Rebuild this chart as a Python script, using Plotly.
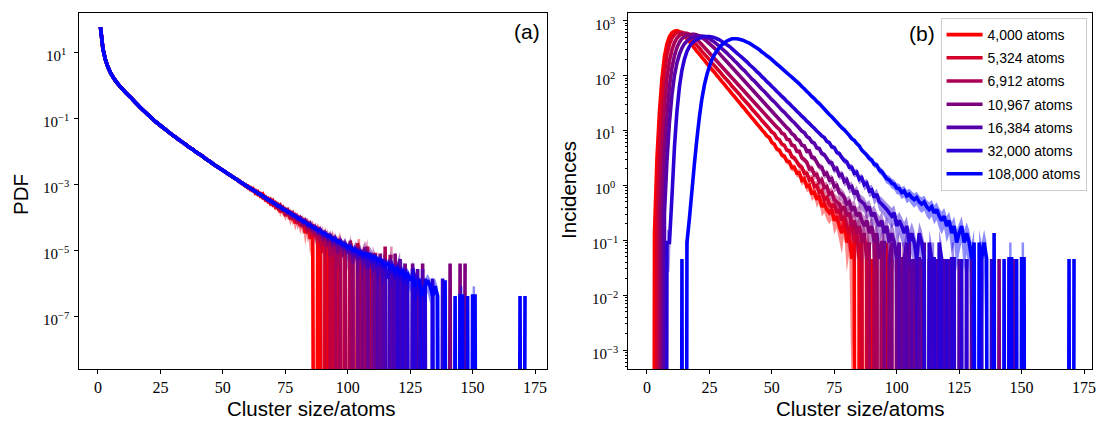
import numpy as np
import plotly.graph_objects as go

# ---------------- data ----------------
labels = ["4,000 atoms", "5,324 atoms", "6,912 atoms", "10,967 atoms",
          "16,384 atoms", "32,000 atoms", "108,000 atoms"]
colors = [(255, 0, 0), (212, 0, 42), (170, 0, 85), (127, 0, 127),
          (85, 0, 170), (42, 0, 212), (0, 0, 255)]

x_ticks = [0, 25, 50, 75, 100, 125, 150, 175]
pdf_ticks = [1e1, 1e-1, 1e-3, 1e-5, 1e-7]
pdf_tick_text = ["10<sup>1</sup>", "10<sup>−1</sup>", "10<sup>−3</sup>",
                 "10<sup>−5</sup>", "10<sup>−7</sup>"]
inc_ticks = [1e3, 1e2, 1e1, 1e0, 1e-1, 1e-2, 1e-3]
inc_tick_text = ["10<sup>3</sup>", "10<sup>2</sup>", "10<sup>1</sup>", "10<sup>0</sup>",
                 "10<sup>−1</sup>", "10<sup>−2</sup>", "10<sup>−3</sup>"]

# (a) PDF, log10 values. Sizes 1..55 coincide for all systems.
pdf_head_log10 = [1.76, 1.10, 0.77, 0.55, 0.38, 0.25, 0.14, 0.04, -0.05, -0.13,
                  -0.21, -0.29, -0.36, -0.44, -0.52, -0.60, -0.68, -0.75, -0.82, -0.89,
                  -0.96, -1.03, -1.10, -1.16, -1.22, -1.28, -1.34, -1.40, -1.46, -1.52,
                  -1.57, -1.63, -1.68, -1.74, -1.79, -1.85, -1.90, -1.95, -2.01, -2.06,
                  -2.11, -2.16, -2.22, -2.27, -2.32, -2.38, -2.43, -2.48, -2.53, -2.58,
                  -2.63, -2.68, -2.73, -2.78, -2.83]
# per-system tails from size 56 (None = empty bin)
pdf_tail_4000 = [-2.86, -2.95, -2.97, -3.06, -3.05, -3.16, -3.13, -3.27, -3.22, -3.36,
                 -3.30, -3.47, -3.43, -3.58, -3.50, -3.68, -3.59, -3.85, -3.70, -3.96,
                 -3.78, -4.06, -3.92, -4.18, -3.98, -4.26, -4.08, -4.48, -4.18, -4.66,
                 -4.26, None, -4.36, -4.66, None, -4.48, -4.96, None, -4.66, None,
                 -4.96, -4.66, None, -4.96, None, -4.96, None, None, -4.96, -4.96]
pdf_tail_5324 = [-2.89, -2.92, -3.00, -3.01, -3.11, -3.10, -3.20, -3.19, -3.31, -3.28,
                 -3.41, -3.38, -3.52, -3.46, -3.62, -3.56, -3.72, -3.64, -3.83, -3.73,
                 -3.95, -3.82, -4.08, -3.90, -4.20, -4.00, -4.30, -4.08, -4.48, -4.18,
                 -4.60, -4.30, -4.78, -4.40, -5.08, -4.60, None, -4.78, -4.60, None,
                 -4.78, -5.08, None, -4.78, None, -5.08, -5.08, None, -4.78, None,
                 -5.08, None, None, -5.08, None, -5.08]
pdf_tail_6912 = [-2.87, -2.94, -2.97, -3.05, -3.07, -3.14, -3.16, -3.24, -3.25, -3.34,
                 -3.34, -3.45, -3.44, -3.55, -3.52, -3.66, -3.61, -3.76, -3.70, -3.88,
                 -3.79, -3.97, -3.88, -4.08, -3.96, -4.19, -4.04, -4.30, -4.12, -4.42,
                 -4.22, -4.56, -4.30, -4.71, -4.40, -4.89, -4.49, -5.19, -4.59, -4.89,
                 None, -4.71, -5.19, -4.89, None, -4.71, -5.19, None, -4.89, -5.19,
                 None, -5.19, -4.89, None, -5.19, None, None, -5.19, None, -4.89,
                 None, -5.19, -5.19]
pdf_tail_10967 = [-2.88, -2.92, -2.99, -3.02, -3.09, -3.11, -3.18, -3.21, -3.28, -3.30,
                  -3.38, -3.40, -3.48, -3.49, -3.58, -3.58, -3.68, -3.67, -3.78, -3.77,
                  -3.87, -3.85, -3.98, -3.94, -4.08, -4.02, -4.18, -4.10, -4.28, -4.20,
                  -4.38, -4.28, -4.50, -4.36, -4.62, -4.45, -4.73, -4.52, -4.87, -4.60,
                  -5.10, -4.68, -4.92, -4.80, -5.10, -4.80, -5.40, -4.92, -5.10, None,
                  -5.10, -4.92, -5.40, None, -5.10, -5.40, None, -5.10, None, -5.40,
                  None, -5.40, None, -5.10, None, None, None, -5.40, None, None,
                  -5.40, None, None, None, -5.40, None, None, None, None, None,
                  None, None, None, None, None, -5.40, None, None, None, -5.40,
                  None, -5.40]
pdf_tail_16384 = [-2.88, -2.93, -2.98, -3.03, -3.08, -3.12, -3.18, -3.21, -3.28, -3.30,
                  -3.37, -3.40, -3.47, -3.49, -3.57, -3.58, -3.67, -3.67, -3.77, -3.77,
                  -3.85, -3.86, -3.96, -3.95, -4.05, -4.03, -4.15, -4.13, -4.24, -4.22,
                  -4.34, -4.30, -4.44, -4.38, -4.54, -4.48, -4.62, -4.57, -4.72, -4.64,
                  -4.82, -4.72, -4.90, -4.80, -5.00, -4.88, -5.10, -4.96, -5.27, -5.00,
                  -5.27, -5.10, -5.57, -5.10, -5.27, -5.57, -5.27, None, -5.27, -5.57,
                  None, -5.27, -5.57, None, -5.57, -5.27, None, -5.57, None, None,
                  -5.57, None, -5.57, None, -5.57]
pdf_tail_32000 = [-2.88, -2.93, -2.98, -3.03, -3.08, -3.13, -3.17, -3.22, -3.27, -3.31,
                  -3.37, -3.40, -3.47, -3.50, -3.56, -3.59, -3.66, -3.69, -3.75, -3.78,
                  -3.84, -3.87, -3.94, -3.96, -4.03, -4.05, -4.13, -4.14, -4.22, -4.24,
                  -4.31, -4.33, -4.40, -4.41, -4.50, -4.50, -4.58, -4.59, -4.68, -4.66,
                  -4.76, -4.74, -4.85, -4.82, -4.94, -4.90, -5.02, -4.98, -5.10, -5.05,
                  -5.20, -5.12, -5.30, -5.20, -5.38, -5.26, -5.50, -5.34, -5.56, -5.44,
                  -5.86, -5.56, -5.56, -5.86, -5.56, None, -5.56, -5.86, -5.86, None,
                  -5.56, -5.86, None, -5.86, None, -5.86, None, None, -5.86, None,
                  None, None, -5.86]
pdf_tail_108000 = [-2.88, -2.93, -2.98, -3.03, -3.08, -3.12, -3.17, -3.22, -3.27, -3.31,
                   -3.36, -3.41, -3.46, -3.50, -3.55, -3.60, -3.65, -3.69, -3.74, -3.79,
                   -3.83, -3.88, -3.93, -3.97, -4.02, -4.07, -4.11, -4.15, -4.21, -4.24,
                   -4.30, -4.33, -4.39, -4.42, -4.48, -4.50, -4.57, -4.59, -4.66, -4.67,
                   -4.74, -4.75, -4.82, -4.84, -4.92, -4.91, -5.00, -4.98, -5.06, -5.08,
                   -5.10, -5.14, -5.12, -5.18, -5.22, -5.20, -5.30, -5.28, -5.38, -5.42,
                   -5.40, -5.52, -5.48, -5.62, -5.56, -5.70, -5.64, -5.80, -5.72, -5.91,
                   -5.80, -6.09, -5.91, -6.09, -6.39, -6.09, -5.91, -6.09, -6.39, -6.09,
                   -6.39, None, None, -5.91, None, None, None, -6.39, None, -6.39,
                   -6.39, None, -6.39, None, -6.39, -6.39, None, None, None, None,
                   None, None, None, None, None, None, None, None, None, None,
                   None, None, None, -6.39, None, -6.39]
pdf_tails = [pdf_tail_4000, pdf_tail_5324, pdf_tail_6912, pdf_tail_10967,
             pdf_tail_16384, pdf_tail_32000, pdf_tail_108000]
# PDF value of a single counted cluster, per system (log10)
pdf_unit_log10 = [-4.96, -5.08, -5.19, -5.40, -5.57, -5.86, -6.39]

# (b) Incidences, log10 values, first size given by inc_start (None = empty bin)
inc_start = [2, 3, 4, 5, 6, 7, 13]
inc_4000 = [None, -0.87, 0.50, 1.35, 1.95, 2.35, 2.58, 2.71, 2.78,
            2.81, 2.82, 2.80, 2.77, 2.72, 2.67, 2.62, 2.56, 2.50, 2.44,
            2.39, 2.33, 2.28, 2.22, 2.17, 2.11, 2.06, 2.00, 1.95, 1.89,
            1.84, 1.78, 1.73, 1.67, 1.62, 1.56, 1.51, 1.45, 1.40, 1.34,
            1.29, 1.23, 1.18, 1.12, 1.07, 1.01, 0.96, 0.90, 0.87, 0.78,
            0.75, 0.66, 0.64, 0.55, 0.53, 0.44, 0.43, 0.32, 0.33, 0.22,
            0.23, 0.09, 0.12, -0.02, 0.00, -0.16, -0.11, -0.26, -0.19, -0.39,
            -0.34, -0.44, -0.50, -0.44, -0.64, -0.56, -0.74, -0.87, -0.64, -1.04,
            -0.87, -1.34, -1.04, None, -1.04, -1.34, None, -1.34, None, -1.34,
            None, -1.34, None, -1.34]
inc_5324 = [None, -0.60, 0.75, 1.55, 2.05, 2.38, 2.57, 2.68,
            2.74, 2.78, 2.79, 2.79, 2.77, 2.74, 2.70, 2.65, 2.60, 2.55,
            2.50, 2.44, 2.39, 2.34, 2.29, 2.23, 2.18, 2.13, 2.08, 2.02,
            1.97, 1.92, 1.87, 1.81, 1.76, 1.71, 1.66, 1.60, 1.55, 1.50,
            1.45, 1.39, 1.34, 1.29, 1.24, 1.18, 1.13, 1.08, 1.03, 0.97,
            0.94, 0.86, 0.83, 0.75, 0.73, 0.64, 0.63, 0.52, 0.50, 0.43,
            0.36, 0.33, 0.22, 0.22, 0.10, 0.12, -0.02, 0.00, -0.13, -0.10,
            -0.26, -0.22, -0.34, -0.39, -0.34, -0.50, -0.44, -0.64, -0.56, -0.74,
            -0.87, -0.64, -1.04, -0.87, -1.34, -1.04, None, -1.04, -1.34, None,
            -1.34, None, None, -1.34, None, -1.04, None, -1.34]
inc_6912 = [None, -0.50, 0.70, 1.45, 1.95, 2.27, 2.47,
            2.60, 2.68, 2.73, 2.76, 2.77, 2.77, 2.75, 2.72, 2.69, 2.65,
            2.61, 2.56, 2.51, 2.46, 2.41, 2.36, 2.31, 2.26, 2.21, 2.16,
            2.11, 2.06, 2.01, 1.96, 1.91, 1.86, 1.81, 1.76, 1.71, 1.66,
            1.61, 1.56, 1.51, 1.46, 1.41, 1.36, 1.31, 1.26, 1.21, 1.16,
            1.11, 1.06, 1.02, 0.95, 0.93, 0.84, 0.83, 0.73, 0.72, 0.62,
            0.62, 0.50, 0.47, 0.42, 0.30, 0.31, 0.19, 0.20, 0.06, 0.10,
            -0.04, -0.02, -0.16, -0.13, -0.26, -0.30, -0.34, -0.44, -0.39, -0.56,
            -0.50, -0.74, -0.64, -0.87, -0.74, -1.04, -0.87, -1.34, -1.04, None,
            -1.04, -1.34, None, -1.34, -1.04, None, -1.34, None, None, -1.34,
            None, -1.34, None, None, -1.34]
inc_10967 = [None, -0.40, 0.60, 1.30, 1.80, 2.14,
             2.36, 2.51, 2.61, 2.67, 2.71, 2.73, 2.74, 2.75, 2.75, 2.74,
             2.72, 2.69, 2.66, 2.62, 2.58, 2.54, 2.50, 2.45, 2.40, 2.35,
             2.30, 2.25, 2.20, 2.15, 2.10, 2.05, 2.00, 1.95, 1.90, 1.85,
             1.80, 1.75, 1.70, 1.65, 1.60, 1.55, 1.50, 1.45, 1.40, 1.35,
             1.30, 1.25, 1.20, 1.15, 1.10, 1.05, 1.01, 0.94, 0.91, 0.84,
             0.82, 0.73, 0.72, 0.62, 0.63, 0.51, 0.50, 0.42, 0.34, 0.33,
             0.20, 0.22, 0.10, 0.12, -0.02, 0.00, -0.13, -0.16, -0.22, -0.34,
             -0.30, -0.44, -0.39, -0.56, -0.50, -0.64, -0.74, -0.64, -0.87, -0.74,
             -1.04, -0.87, -1.34, -1.04, -1.04, None, -1.34, -1.04, None, -1.34,
             None, -1.34, -1.34, None, -1.04, None, -1.34, None, None, -1.34,
             None, None, -1.34, None, None, None, -1.34, None, None, None,
             None, -1.34, None, None, None, None, None, None, None, -1.34,
             None, None, None, None, None, None, None, None, None, None,
             -1.34, None, None, None, -1.34, None, -1.34]
inc_16384 = [None, -0.50, 0.45, 1.15, 1.65,
             2.00, 2.23, 2.39, 2.50, 2.58, 2.63, 2.67, 2.69, 2.71, 2.72,
             2.72, 2.72, 2.71, 2.69, 2.67, 2.64, 2.61, 2.57, 2.53, 2.49,
             2.45, 2.41, 2.36, 2.32, 2.27, 2.23, 2.18, 2.13, 2.09, 2.04,
             1.99, 1.94, 1.90, 1.85, 1.80, 1.75, 1.71, 1.66, 1.61, 1.56,
             1.52, 1.47, 1.42, 1.37, 1.33, 1.28, 1.23, 1.18, 1.14, 1.09,
             1.04, 0.99, 0.96, 0.89, 0.86, 0.79, 0.77, 0.68, 0.67, 0.58,
             0.56, 0.49, 0.42, 0.41, 0.29, 0.31, 0.18, 0.20, 0.07, 0.10,
             -0.04, -0.02, -0.16, -0.10, -0.26, -0.30, -0.34, -0.44, -0.39, -0.56,
             -0.50, -0.64, -0.74, -0.64, -0.87, -0.74, -1.04, -0.87, -1.04, -1.34,
             -1.04, None, -1.34, -1.04, None, -1.34, None, -1.34, -1.34, None,
             -1.04, None, None, -1.34, None, -1.34, None, None, -1.34, None,
             -1.34, None, None, None, -1.34, None, None, -1.34]
inc_32000 = [None, -1.04, -1.04, -0.20,
             0.70, 1.35, 1.80, 2.10, 2.30, 2.44, 2.53, 2.59, 2.63, 2.66,
             2.68, 2.70, 2.71, 2.71, 2.71, 2.70, 2.69, 2.67, 2.65, 2.62,
             2.59, 2.56, 2.53, 2.49, 2.45, 2.41, 2.37, 2.33, 2.29, 2.25,
             2.20, 2.16, 2.12, 2.07, 2.03, 1.98, 1.94, 1.89, 1.85, 1.80,
             1.76, 1.71, 1.67, 1.62, 1.58, 1.53, 1.49, 1.44, 1.40, 1.35,
             1.31, 1.26, 1.22, 1.17, 1.13, 1.08, 1.04, 0.99, 0.95, 0.90,
             0.87, 0.80, 0.78, 0.70, 0.69, 0.60, 0.58, 0.51, 0.45, 0.43,
             0.33, 0.33, 0.22, 0.24, 0.11, 0.14, 0.01, 0.04, -0.10, -0.08,
             -0.22, -0.16, -0.30, -0.34, -0.39, -0.44, -0.50, -0.56, -0.50, -0.74,
             -0.64, -0.74, -0.87, -0.74, -1.04, -0.87, -1.04, -1.34, -0.87, -1.04,
             -1.34, None, -1.04, -1.34, -1.34, None, -1.04, -1.34, None, -1.34,
             None, -1.34, -1.34, None, None, -1.34, None, -1.34, None, None,
             -1.34, None, None, -1.34, None, None, None, -1.34]
inc_108000 = [None, -1.34, None, -1.04, -0.60, -0.10, 0.40, 0.85,
              1.25, 1.58, 1.83, 2.02, 2.17, 2.29, 2.38, 2.45, 2.51, 2.56,
              2.60, 2.63, 2.65, 2.67, 2.67, 2.67, 2.66, 2.65, 2.63, 2.61,
              2.59, 2.56, 2.53, 2.50, 2.47, 2.43, 2.40, 2.36, 2.33, 2.29,
              2.25, 2.21, 2.17, 2.13, 2.09, 2.05, 2.01, 1.97, 1.93, 1.89,
              1.85, 1.80, 1.76, 1.71, 1.67, 1.62, 1.58, 1.53, 1.49, 1.44,
              1.39, 1.34, 1.29, 1.25, 1.20, 1.15, 1.10, 1.05, 1.01, 0.96,
              0.91, 0.85, 0.82, 0.76, 0.72, 0.64, 0.60, 0.55, 0.49, 0.46,
              0.38, 0.37, 0.28, 0.25, 0.19, 0.12, 0.10, 0.04, 0.02, -0.05,
              -0.06, -0.13, -0.10, -0.19, -0.16, -0.22, -0.26, -0.22, -0.30, -0.34,
              -0.30, -0.39, -0.44, -0.39, -0.50, -0.44, -0.56, -0.64, -0.56, -0.74,
              -0.64, -0.87, -0.74, -1.04, -0.87, -0.74, -1.04, -0.87, -1.04, -1.34,
              -1.04, None, -1.04, -1.34, -1.04, -1.34, None, None, -0.87, None,
              None, None, -1.34, None, -1.34, -1.34, None, -1.34, None, -1.34,
              -1.34, None, None, None, None, None, None, None, None, None,
              None, None, None, None, None, None, None, None, -1.34, None,
              -1.34]
inc_series = [inc_4000, inc_5324, inc_6912, inc_10967, inc_16384, inc_32000, inc_108000]
inc_unit_log10 = -1.342   # incidence of a single counted event

# ---------------- helpers ----------------
FLOOR = 1e-30  # non-positive values are clipped far below the axis, as matplotlib does


def curve_and_band(logs, unit_log):
    val, up, lo = [], [], []
    for v in logs:
        if v is None:
            val.append(FLOOR); up.append(FLOOR); lo.append(FLOOR)
            continue
        y = 10 ** v
        n = 10 ** (v - unit_log)
        r = 1.0 / np.sqrt(n)
        val.append(y)
        up.append(y * (1 + r))
        lo.append(max(y * (1 - r), FLOOR))
    return val, up, lo


def rgba(c, a):
    return "rgba(%d,%d,%d,%s)" % (c[0], c[1], c[2], a)


fig = go.Figure()

# ---------------- panel (a) ----------------
for i in range(7):
    logs = pdf_head_log10 + pdf_tails[i]
    xs = list(range(1, 1 + len(logs)))
    val, up, lo = curve_and_band(logs, pdf_unit_log10[i])
    fig.add_trace(go.Scatter(x=xs + xs[::-1], y=up + lo[::-1], fill="toself",
                             mode="lines", line=dict(width=0, color=rgba(colors[i], 0)),
                             fillcolor=rgba(colors[i], 0.45), showlegend=False,
                             hoverinfo="skip", xaxis="x", yaxis="y"))
    fig.add_trace(go.Scatter(x=xs, y=val, mode="lines",
                             line=dict(width=3.6, color=rgba(colors[i], 1), simplify=False),
                             showlegend=False, xaxis="x", yaxis="y"))

# ---------------- panel (b) ----------------
for i in range(7):
    logs = inc_series[i]
    xs = list(range(inc_start[i], inc_start[i] + len(logs)))
    val, up, lo = curve_and_band(logs, inc_unit_log10)
    fig.add_trace(go.Scatter(x=xs + xs[::-1], y=up + lo[::-1], fill="toself",
                             mode="lines", line=dict(width=0, color=rgba(colors[i], 0)),
                             fillcolor=rgba(colors[i], 0.45), showlegend=False,
                             hoverinfo="skip", xaxis="x2", yaxis="y2"))
    fig.add_trace(go.Scatter(x=xs, y=val, mode="lines", name=labels[i],
                             legendgroup="g%d" % i,
                             line=dict(width=3.6, color=rgba(colors[i], 1), simplify=False),
                             showlegend=True, xaxis="x2", yaxis="y2"))

# ---------------- layout ----------------
W, H = 1099, 421
serif = "Liberation Serif"
sans = "Liberation Sans"


def px_x(p):
    return p / W


def px_y(p):
    return 1 - p / H


xax = dict(range=[-7.7, 179.8], tickmode="array", tickvals=x_ticks,
           ticks="outside", ticklen=4, tickwidth=1, tickcolor="black",
           showline=True, linecolor="black", linewidth=1, mirror=True,
           showgrid=False, zeroline=False, ticklabeloverflow="allow",
           tickfont=dict(family=serif, size=16, color="black"))

minor_vals = [m * 10.0 ** k for k in range(-4, 4) for m in range(2, 10)]

fig.update_layout(
    width=W, height=H, margin=dict(l=0, r=0, t=0, b=0),
    paper_bgcolor="white", plot_bgcolor="white",
    xaxis=dict(xax, domain=[px_x(79), px_x(549)], anchor="y"),
    yaxis=dict(type="log", range=[-8.6, 2.18], domain=[px_y(369), px_y(13.3)],
               tickmode="array", tickvals=pdf_ticks, showticklabels=False,
               ticks="outside", ticklen=4, tickwidth=1, tickcolor="black",
               showline=True, linecolor="black", linewidth=1, mirror=True,
               showgrid=False, zeroline=False, anchor="x"),
    xaxis2=dict(xax, domain=[px_x(630.3), px_x(1096)], range=[-7.6, 178.2], anchor="y2"),
    yaxis2=dict(type="log", range=[-3.345, 3.134], domain=[px_y(369), px_y(13.3)],
                tickmode="array", tickvals=inc_ticks, showticklabels=False,
                ticks="outside", ticklen=4, tickwidth=1, tickcolor="black",
                minor=dict(tickmode="array", tickvals=minor_vals, ticks="outside",
                           ticklen=2, tickwidth=0.8, tickcolor="black", showgrid=False),
                showline=True, linecolor="black", linewidth=1, mirror=True,
                showgrid=False, zeroline=False, anchor="x2"),
    legend=dict(x=px_x(944), y=px_y(18), xanchor="left", yanchor="top",
                bgcolor="rgba(255,255,255,0.85)", bordercolor="#cccccc", borderwidth=1,
                font=dict(family=sans, size=14, color="black"), itemwidth=36,
                tracegroupgap=2),
    showlegend=True,
)

ann = []
for v, t in zip(pdf_ticks, pdf_tick_text):
    ann.append(dict(x=px_x(56), xref="paper", y=np.log10(v), yref="y", text=t,
                    showarrow=False, xanchor="center", yanchor="middle", yshift=-3,
                    font=dict(family=serif, size=15, color="black")))
for v, t in zip(inc_ticks, inc_tick_text):
    ann.append(dict(x=px_x(607), xref="paper", y=np.log10(v), yref="y2", text=t,
                    showarrow=False, xanchor="center", yanchor="middle", yshift=-3,
                    font=dict(family=serif, size=15, color="black")))

title_font = dict(family=sans, size=20.5, color="black")
ann += [
    dict(x=px_x(312.5), y=px_y(408), xref="paper", yref="paper", text="Cluster size/atoms",
         showarrow=False, xanchor="center", yanchor="middle", font=title_font),
    dict(x=px_x(863.7), y=px_y(408), xref="paper", yref="paper", text="Cluster size/atoms",
         showarrow=False, xanchor="center", yanchor="middle", font=title_font),
    dict(x=px_x(20), y=px_y(194), xref="paper", yref="paper", text="PDF", textangle=-90,
         showarrow=False, xanchor="center", yanchor="middle", font=title_font),
    dict(x=px_x(571), y=px_y(190), xref="paper", yref="paper", text="Incidences",
         textangle=-90, showarrow=False, xanchor="center", yanchor="middle", font=title_font),
    dict(x=px_x(544), y=px_y(31), xref="paper", yref="paper", text="(a)",
         showarrow=False, xanchor="right", yanchor="middle",
         font=dict(family=sans, size=21, color="black")),
    dict(x=px_x(940), y=px_y(33), xref="paper", yref="paper", text="(b)",
         showarrow=False, xanchor="right", yanchor="middle",
         font=dict(family=sans, size=21, color="black")),
]
fig.update_layout(annotations=ann)

# remove the default 8 px page margin so the figure fills the window exactly
fig.write_html("out.html", config={"displayModeBar": False},
               post_script="document.body.style.margin='0px';"
                           "document.body.style.overflow='hidden';")
